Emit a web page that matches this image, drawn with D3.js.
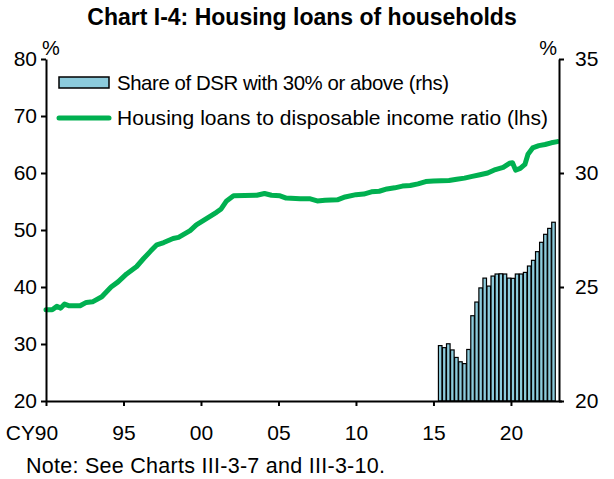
<!DOCTYPE html>
<html>
<head>
<meta charset="UTF-8">
<title>Chart I-4</title>
<script src="https://cdn.jsdelivr.net/npm/d3@7/dist/d3.min.js"></script>
<style>
  body { margin: 0; background: #fff; }
  text { font-family: "Liberation Sans", Arial, sans-serif; fill: #000; }
</style>
</head>
<body>
<svg id="svg" width="614" height="479"></svg>
<script>
// housing loans to disposable income ratio (lhs), year fraction / percent
const lineYears = [1990.0, 1990.4, 1990.7, 1990.95, 1991.2, 1991.5, 1992.2, 1992.6, 1993.0, 1993.6,
  1994.2, 1994.65, 1995.2, 1995.85, 1996.3, 1996.75, 1997.15, 1997.6, 1998.2, 1998.55,
  1999.3, 1999.7, 2000.35, 2001.0, 2001.3, 2001.65, 2002.1, 2003.6, 2004.1, 2004.55,
  2005.1, 2005.5, 2006.4, 2007.0, 2007.5, 2008.0, 2008.8, 2009.3, 2010.0, 2010.5,
  2011.0, 2011.5, 2012.0, 2012.5, 2013.0, 2013.5, 2014.0, 2014.5, 2015.0, 2016.0,
  2016.5, 2017.0, 2017.5, 2018.0, 2018.5, 2019.0, 2019.5, 2019.9, 2020.1, 2020.3,
  2020.6, 2020.9, 2021.1, 2021.4, 2021.8, 2022.2, 2022.6, 2023.0];
const lineValues = [36.0, 36.0, 36.6, 36.3, 37.0, 36.7, 36.7, 37.3, 37.4, 38.3,
  40.0, 40.9, 42.3, 43.6, 45.0, 46.3, 47.4, 47.8, 48.5, 48.7,
  49.9, 50.9, 52.0, 53.1, 53.7, 55.1, 56.0, 56.1, 56.4, 56.1,
  56.0, 55.6, 55.5, 55.5, 55.1, 55.2, 55.3, 55.8, 56.2, 56.3,
  56.7, 56.8, 57.2, 57.4, 57.7, 57.8, 58.1, 58.5, 58.6, 58.7,
  58.9, 59.1, 59.4, 59.7, 60.0, 60.6, 61.0, 61.7, 61.8, 60.5,
  60.8, 61.5, 63.3, 64.4, 64.8, 65.0, 65.3, 65.5];

// share of DSR with 30% or above (rhs)
const barQuarters = ["15Q2", "15Q3", "15Q4", "16Q1", "16Q2", "16Q3", "16Q4", "17Q1", "17Q2", "17Q3",
  "17Q4", "18Q1", "18Q2", "18Q3", "18Q4", "19Q1", "19Q2", "19Q3", "19Q4", "20Q1",
  "20Q2", "20Q3", "20Q4", "21Q1", "21Q2", "21Q3", "21Q4", "22Q1", "22Q2"];
const barValues = [22.43, 22.34, 22.51, 22.24, 21.91, 21.72, 21.64, 22.26, 23.74, 24.34,
  24.96, 25.39, 25.04, 25.48, 25.57, 25.58, 25.57, 25.39, 25.38, 25.57,
  25.57, 25.64, 25.92, 26.17, 26.55, 26.96, 27.31, 27.57, 27.84];
const barSpan = [2015.32, 2022.86]; // years covered by the bars

const xTicks = [1990, 1995, 2000, 2005, 2010, 2015, 2020];
const leftTicks = [20, 30, 40, 50, 60, 70, 80];
const rightTicks = [20, 25, 30, 35];

const svg = d3.select("#svg");
const plotLeft = 46, plotRight = 559, plotTop = 59, plotBottom = 401;

const x = d3.scaleLinear().domain([1990, 2023.1]).range([plotLeft, plotRight]);
const yL = d3.scaleLinear().domain([20, 80]).range([plotBottom, plotTop]);
const yR = d3.scaleLinear().domain([20, 35]).range([plotBottom, plotTop]);
const xb = d3.scaleBand().domain(barQuarters)
  .range([x(barSpan[0]), x(barSpan[1])]).paddingInner(0.12);

// bars
svg.append("g")
  .selectAll("rect")
  .data(barValues)
  .enter().append("rect")
  .attr("x", (d, i) => xb(barQuarters[i]))
  .attr("width", xb.bandwidth())
  .attr("y", d => yR(d))
  .attr("height", d => yR(20) - yR(d))
  .attr("fill", "#8ccbdc")
  .attr("stroke", "#000")
  .attr("stroke-width", 1.2);

// line
const line = d3.line()
  .x((d, i) => x(lineYears[i]))
  .y(d => yL(d));
svg.append("path")
  .datum(lineValues)
  .attr("d", line)
  .attr("fill", "none")
  .attr("stroke", "#00b050")
  .attr("stroke-width", 5)
  .attr("stroke-linejoin", "round")
  .attr("stroke-linecap", "round");

// axes
const fs = "21px";
const gx = svg.append("g").attr("transform", `translate(0,${plotBottom})`)
  .call(d3.axisBottom(x).tickValues(xTicks).tickSize(5).tickSizeOuter(0)
    .tickFormat(d => d3.format("02d")(d % 100)));
gx.select(".domain").attr("d", `M${plotLeft},0.5H${plotRight + 3}`);
const gl = svg.append("g").attr("transform", `translate(${plotLeft},0)`)
  .call(d3.axisLeft(yL).tickValues(leftTicks).tickSize(5).tickSizeOuter(0).tickPadding(4));
const gr = svg.append("g").attr("transform", `translate(${plotRight},0)`)
  .call(d3.axisRight(yR).tickValues(rightTicks).tickSize(5).tickSizeOuter(0).tickPadding(11));

[gx, gl, gr].forEach(g => {
  g.selectAll("path, line").attr("stroke", "#000").attr("stroke-width", 2);
  g.selectAll("text").attr("font-size", fs).attr("font-family", "Liberation Sans, Arial, sans-serif").attr("fill", "#000");
});
gx.selectAll("text").attr("y", 39).attr("dy", 0);

svg.append("text").attr("x", x(1990) - 11).attr("y", plotBottom + 39)
  .attr("text-anchor", "end").attr("font-size", fs).text("CY");

// unit labels
svg.append("text").attr("x", 42).attr("y", 55).attr("font-size", "20px").text("%");
svg.append("text").attr("x", 557).attr("y", 55).attr("text-anchor", "end").attr("font-size", "20px").text("%");

// title
svg.append("text").attr("x", 302).attr("y", 25).attr("text-anchor", "middle")
  .attr("font-size", "23px").attr("font-weight", "bold")
  .text("Chart I-4: Housing loans of households");

// legend
const lg = svg.append("g");
lg.append("rect").attr("x", 59).attr("y", 77).attr("width", 50).attr("height", 11)
  .attr("fill", "#8ccbdc").attr("stroke", "#000").attr("stroke-width", 1.5);
lg.append("text").attr("x", 117).attr("y", 90).attr("font-size", "20.4px")
  .attr("textLength", 332).attr("lengthAdjust", "spacing")
  .text("Share of DSR with 30% or above (rhs)");
lg.append("line").attr("x1", 59).attr("x2", 109).attr("y1", 118).attr("y2", 118)
  .attr("stroke", "#00b050").attr("stroke-width", 5).attr("stroke-linecap", "round");
lg.append("text").attr("x", 117).attr("y", 125).attr("font-size", "21px")
  .attr("textLength", 431).attr("lengthAdjust", "spacing")
  .text("Housing loans to disposable income ratio (lhs)");

// note
svg.append("text").attr("x", 26).attr("y", 473).attr("font-size", "21.5px")
  .attr("textLength", 359).attr("lengthAdjust", "spacing")
  .text("Note: See Charts III-3-7 and III-3-10.");
</script>
</body>
</html>
